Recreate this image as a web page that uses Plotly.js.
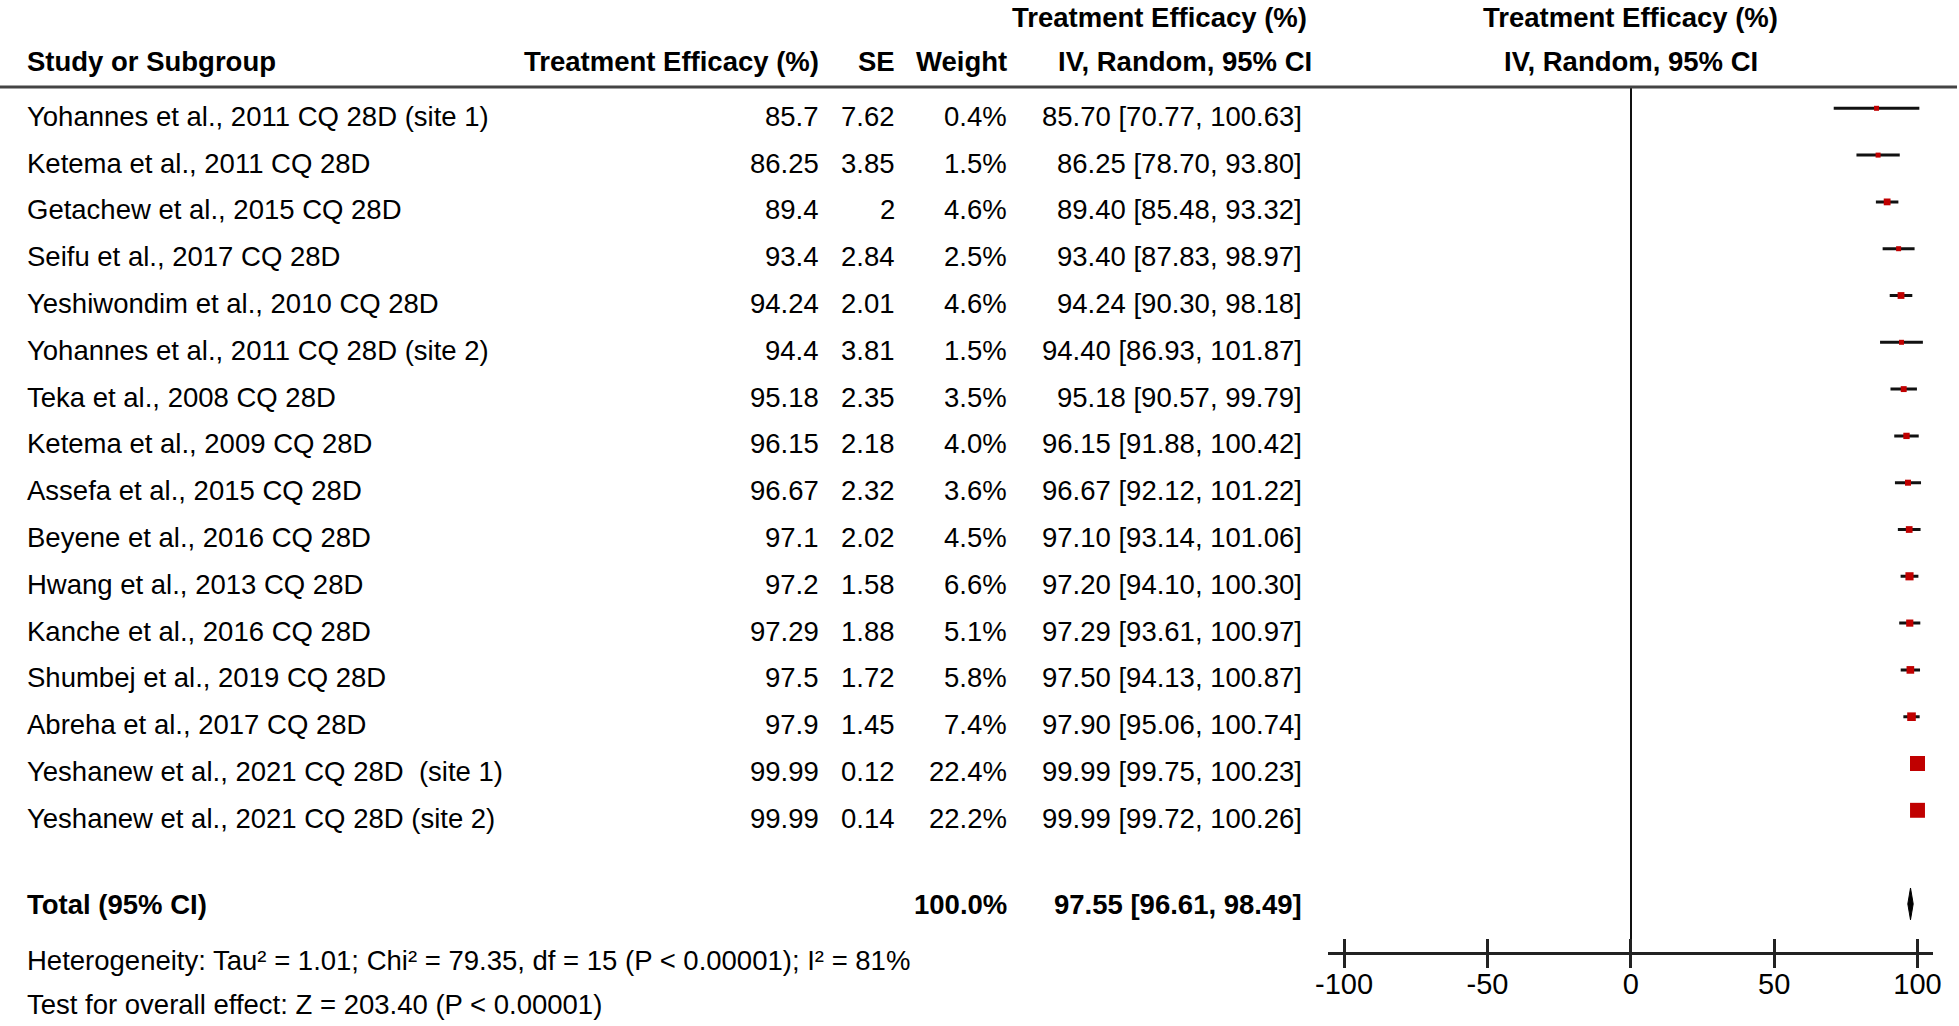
<!DOCTYPE html>
<html>
<head>
<meta charset="utf-8">
<script src="https://cdn.plot.ly/plotly-3.0.1.min.js"></script>
<style>
html,body{margin:0;padding:0;background:#fff;}
#chart{width:1959px;height:1026px;}
</style>
</head>
<body>
<div id="chart"></div>
<script>
const studies = [
  "Yohannes et al., 2011 CQ 28D (site 1)",
  "Ketema et al., 2011 CQ 28D",
  "Getachew et al., 2015 CQ 28D",
  "Seifu et al., 2017 CQ 28D",
  "Yeshiwondim et al., 2010 CQ 28D",
  "Yohannes et al., 2011 CQ 28D (site 2)",
  "Teka et al., 2008 CQ 28D",
  "Ketema et al., 2009 CQ 28D",
  "Assefa et al., 2015 CQ 28D",
  "Beyene et al., 2016 CQ 28D",
  "Hwang et al., 2013 CQ 28D",
  "Kanche et al., 2016 CQ 28D",
  "Shumbej et al., 2019 CQ 28D",
  "Abreha et al., 2017 CQ 28D",
  "Yeshanew et al., 2021 CQ 28D\u00a0 (site 1)",
  "Yeshanew et al., 2021 CQ 28D (site 2)"
];
const efficacy = [85.7, 86.25, 89.4, 93.4, 94.24, 94.4, 95.18, 96.15, 96.67, 97.1, 97.2, 97.29, 97.5, 97.9, 99.99, 99.99];
const se = [7.62, 3.85, 2, 2.84, 2.01, 3.81, 2.35, 2.18, 2.32, 2.02, 1.58, 1.88, 1.72, 1.45, 0.12, 0.14];
const weight = [0.4, 1.5, 4.6, 2.5, 4.6, 1.5, 3.5, 4.0, 3.6, 4.5, 6.6, 5.1, 5.8, 7.4, 22.4, 22.2];
const ciLow = [70.77, 78.70, 85.48, 87.83, 90.30, 86.93, 90.57, 91.88, 92.12, 93.14, 94.10, 93.61, 94.13, 95.06, 99.75, 99.72];
const ciHigh = [100.63, 93.80, 93.32, 98.97, 98.18, 101.87, 99.79, 100.42, 101.22, 101.06, 100.30, 100.97, 100.87, 100.74, 100.23, 100.26];

const totalLabel = "Total (95% CI)";
const totalWeight = 100.0;
const totalEst = 97.55;
const totalLow = 96.61;
const totalHigh = 98.49;
const heterogeneityText = "Heterogeneity: Tau\u00b2 = 1.01; Chi\u00b2 = 79.35, df = 15 (P < 0.00001); I\u00b2 = 81%";
const overallText = "Test for overall effect: Z = 203.40 (P < 0.00001)";
const tickValues = [-100, -50, 0, 50, 100];
const tickLabels = ["-100", "-50", "0", "50", "100"];

const W = 1959, H = 1026;
const FONT = "Liberation Sans, Arial, sans-serif";
const FS = 27.5;
const px = v => v / W;
const ROW0 = 108.3, ROWH = 46.8;
const rowPaper = (i, off) => 1 - (ROW0 + ROWH * i + (off || 0)) / H;
const pxPaper = p => 1 - p / H;

const rows = studies.map((_, i) => i);
const totalRow = studies.length + 1;

const colName = px(25), colEff = px(821), colSE = px(897), colW = px(1009), colCI = px(1304);

const ann = [];
function t(x, y, text, anchor, bold) {
  ann.push({xref: 'paper', yref: 'paper', x: x, y: y, text: text, showarrow: false,
    xanchor: anchor, yanchor: 'middle',
    font: {family: FONT, size: FS, color: '#000', weight: bold ? 'bold' : 'normal'}});
}
// headers
const hdr2 = pxPaper(62), hdr1 = pxPaper(17);
t(colName, hdr2, "Study or Subgroup", 'left', true);
t(colEff, hdr2, "Treatment Efficacy (%)", 'right', true);
t(colSE, hdr2, "SE", 'right', true);
t(colW, hdr2, "Weight", 'right', true);
t(px(1159), hdr1, "Treatment Efficacy (%)", 'center', true);
t(px(1185), hdr2, "IV, Random, 95% CI", 'center', true);
t(px(1630.8), hdr1, "Treatment Efficacy (%)", 'center', true);
t(px(1630.8), hdr2, "IV, Random, 95% CI", 'center', true);

studies.forEach((s, i) => {
  const y = rowPaper(i, 8);
  t(colName, y, s, 'left', false);
  t(colEff, y, String(efficacy[i]), 'right', false);
  t(colSE, y, String(se[i]), 'right', false);
  t(colW, y, weight[i].toFixed(1) + '%', 'right', false);
  t(colCI, y, efficacy[i].toFixed(2) + ' [' + ciLow[i].toFixed(2) + ', ' + ciHigh[i].toFixed(2) + ']', 'right', false);
});
const ty = rowPaper(totalRow, 1);
t(colName, ty, totalLabel, 'left', true);
t(colW, ty, totalWeight.toFixed(1) + '%', 'right', true);
t(colCI, ty, totalEst.toFixed(2) + ' [' + totalLow.toFixed(2) + ', ' + totalHigh.toFixed(2) + ']', 'right', true);
t(colName, pxPaper(960), heterogeneityText, 'left', false);
t(colName, pxPaper(1004), overallText, 'left', false);

const maxW = Math.max(...weight);
const boxSize = weight.map(w => Math.max(5, 15 * Math.sqrt(w / maxW)));

const studyTrace = {
  type: 'scatter', mode: 'markers', x: efficacy, y: rows, xaxis: 'x', yaxis: 'y',
  cliponaxis: false,
  marker: {symbol: 'square', size: boxSize, color: '#C00000', opacity: 1, line: {width: 0}},
  error_x: {type: 'data', symmetric: false,
    array: ciHigh.map((h, i) => h - efficacy[i]),
    arrayminus: ciLow.map((l, i) => efficacy[i] - l),
    color: '#111', thickness: 3, width: 0},
  hoverinfo: 'x+y', showlegend: false
};
const dh = 0.34;
const diamond = {
  type: 'scatter', mode: 'lines', fill: 'toself', fillcolor: '#000',
  x: [totalLow, totalEst, totalHigh, totalEst, totalLow],
  y: [totalRow, totalRow - dh, totalRow, totalRow + dh, totalRow],
  line: {color: '#000', width: 1}, xaxis: 'x', yaxis: 'y', showlegend: false, hoverinfo: 'skip',
  cliponaxis: false
};
const tickTwin = {type: 'scatter', mode: 'markers', x: [0], y: [0], xaxis: 'x2', yaxis: 'y',
  marker: {opacity: 0}, showlegend: false, hoverinfo: 'skip'};

const xdom = [px(1328.3), px(1933.3)];
const yBottom = 1 - 951.7 / H, yTop = 1 - 87 / H;
const yLow = (951.7 - ROW0) / ROWH, yHigh = (87 - ROW0) / ROWH;

const layout = {
  width: W, height: H,
  margin: {l: 0, r: 0, t: 0, b: 0, pad: 0},
  paper_bgcolor: '#fff', plot_bgcolor: '#fff',
  showlegend: false,
  xaxis: {domain: xdom, range: [-105.5, 105.5], anchor: 'y',
    showgrid: false, zeroline: true, zerolinecolor: '#111', zerolinewidth: 2,
    showline: true, linecolor: '#222', linewidth: 3,
    tickmode: 'array', tickvals: tickValues, ticktext: tickLabels,
    ticks: 'outside', ticklen: 13, tickwidth: 3, tickcolor: '#222',
    ticklabelstandoff: -9,
    tickfont: {family: FONT, size: 29, color: '#000'}, fixedrange: true},
  xaxis2: {domain: xdom, range: [-105.5, 105.5], anchor: 'y', overlaying: 'x',
    showgrid: false, zeroline: false, showline: false,
    tickmode: 'array', tickvals: tickValues, ticks: 'inside', ticklen: 13, tickwidth: 3, tickcolor: '#222',
    showticklabels: false, side: 'bottom'},
  yaxis: {domain: [yBottom, yTop], range: [yLow, yHigh], anchor: 'x',
    showgrid: false, zeroline: false, showline: false, showticklabels: false, ticks: ''},
  shapes: [{type: 'line', xref: 'paper', yref: 'paper', x0: 0, x1: px(1957), y0: pxPaper(87), y1: pxPaper(87),
    line: {color: '#444', width: 3}}],
  annotations: ann
};

Plotly.newPlot('chart', [studyTrace, diamond, tickTwin], layout, {displayModeBar: false, staticPlot: true});
</script>
</body>
</html>
